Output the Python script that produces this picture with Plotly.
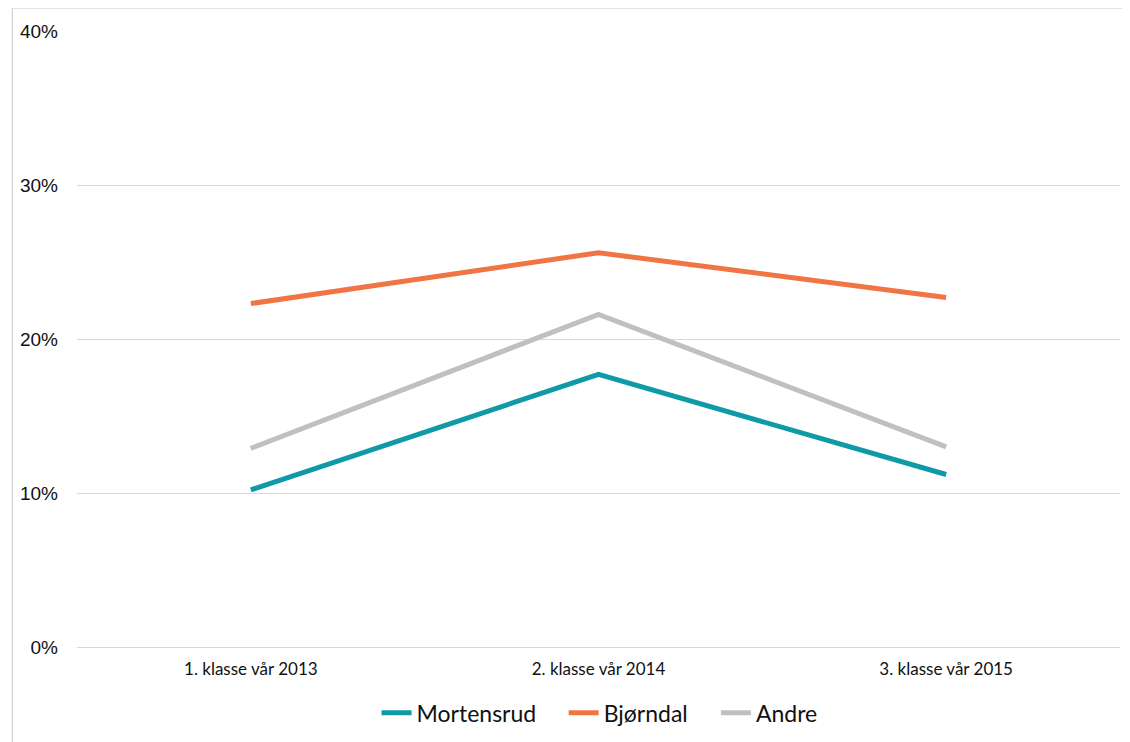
import plotly.graph_objects as go

categories = ["1. klasse vår 2013", "2. klasse vår 2014", "3. klasse vår 2015"]
mortensrud = [0.102, 0.177, 0.112]
bjorndal = [0.223, 0.256, 0.227]
andre = [0.129, 0.216, 0.130]
y_ticks = [0, 0.1, 0.2, 0.3, 0.4]
y_tick_labels = ["0%", "10%", "20%", "30%", "40%"]

series = [
    ("Mortensrud", mortensrud, "#0E9AA7", "legend"),
    ("Bjørndal", bjorndal, "#F07543", "legend2"),
    ("Andre", andre, "#C0C0C0", "legend3"),
]

fig = go.Figure()
for name, vals, color, lg in series:
    fig.add_trace(go.Scatter(
        x=categories, y=vals, name=name, mode="lines",
        line=dict(color=color, width=5), legend=lg,
    ))

legend_font = dict(family="Lato, Open Sans, sans-serif", size=23, color="#111111")
def leg(px):
    return dict(orientation="h", x=(px - 72 - 8) / 1048, xanchor="left", y=-0.107,
                yanchor="middle", font=legend_font, bgcolor="rgba(0,0,0,0)")

fig.update_layout(
    width=1130, height=742,
    margin=dict(l=64, r=18, t=23, b=103),
    paper_bgcolor="white", plot_bgcolor="white",
    showlegend=True,
    legend=leg(381), legend2=leg(569), legend3=leg(722),
    shapes=[dict(type="rect", xref="paper", yref="paper",
                 x0=-0.062, x1=1.05, y0=-0.3, y1=1.0373,
                 line=dict(color="#D9D9D9", width=1.5), fillcolor="rgba(0,0,0,0)", layer="below")],
)
fig.update_xaxes(
    type="category", showgrid=False, showline=False, zeroline=False,
    tickfont=dict(family="Lato, Open Sans, sans-serif", size=17, color="#111111"),
    ticks="", ticklabelstandoff=10, range=[-0.5, 2.5],
)
fig.update_yaxes(
    range=[0, 0.4], tickvals=y_ticks, ticktext=y_tick_labels,
    showgrid=True, gridcolor="#D9D9D9", gridwidth=1, zeroline=True, zerolinecolor="#D9D9D9",
    zerolinewidth=1, showline=False,
    tickfont=dict(family="Liberation Sans, Arial, sans-serif", size=19, color="#111111"),
    ticks="", ticklabelstandoff=18,
)

fig.write_html("out.html")
